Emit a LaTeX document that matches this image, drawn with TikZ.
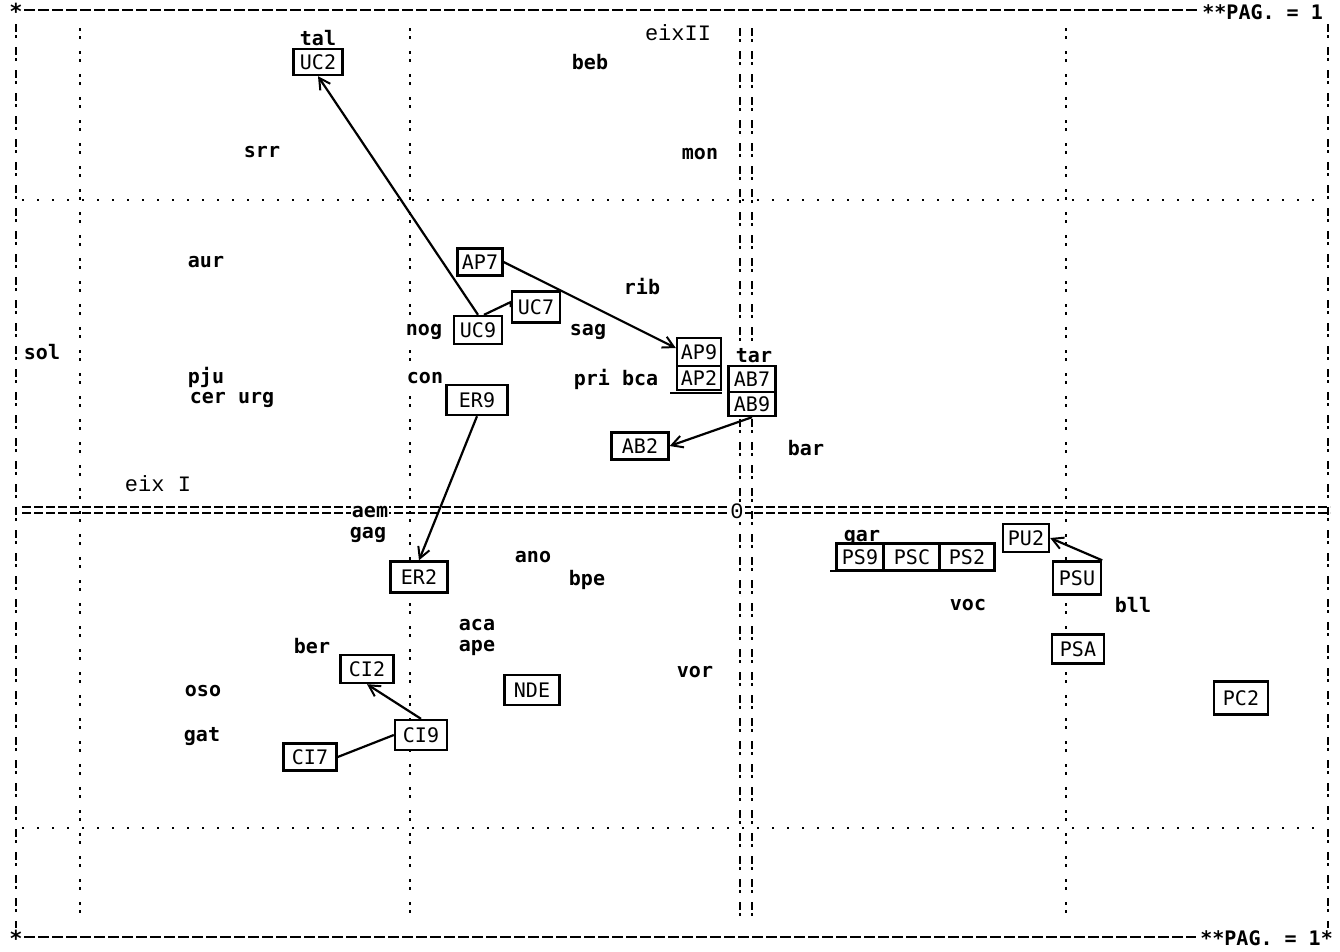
\documentclass[tikz,border=0pt]{standalone}
\usepackage{fontspec}
\newfontfamily\lbl{DejaVu Sans Mono}
\newfontfamily\typ{Liberation Mono}
\usetikzlibrary{arrows.meta}
\tikzset{
 word/.style={font=\lbl\bfseries\fontsize{20}{20}\selectfont, inner sep=1pt, fill=white},
 box/.style={draw, line width=2.4pt, fill=white, font=\lbl\fontsize{20}{20}\selectfont, minimum height=26pt, inner xsep=3pt, inner ysep=0pt},
 axislbl/.style={font=\typ\fontsize{22}{22}\selectfont, inner sep=1pt, fill=white},
 link/.style={line width=2.2pt},
 arr/.style={link, -{Straight Barb[length=11pt,width=12pt,line width=2pt]}},
 colon/.style={line width=2.6pt, dash pattern=on 2.5pt off 5.5pt on 2.5pt off 12.5pt},
 bang/.style={line width=2.4pt, dash pattern=on 8pt off 3pt on 2.5pt off 9.5pt},
 dotrow/.style={line width=2.6pt, dash pattern=on 2pt off 13pt},
 border/.style={line width=2.4pt, dash pattern=on 11pt off 3pt},
 dbl/.style={line width=1.8pt, dash pattern=on 9pt off 3pt},
}
\begin{document}
\begin{tikzpicture}[x=1pt,y=-1pt]
\useasboundingbox (0,0) rectangle (1340,951);
% frame
\draw[border] (24,10) -- (1200,10);
\draw[border] (24,937) -- (1196,937);
\draw[bang] (16,24) -- (16,928);
\draw[bang] (1328,24) -- (1328,928);
% grid
\foreach \gx in {80,410,1066} {\draw[colon] (\gx,28) -- (\gx,922);}
\foreach \gx in {740,752} {\draw[bang] (\gx,28) -- (\gx,920);}
\draw[dotrow] (22,200) -- (1326,200);
\draw[dotrow] (22,828) -- (1326,828);
\draw[dbl] (22,507) -- (1330,507);
\draw[dbl] (22,513) -- (1330,513);
\node[word, font=\lbl\bfseries\fontsize{22}{22}\selectfont] (stl) at (16,11) {*};
\node[word, font=\lbl\bfseries\fontsize{22}{22}\selectfont] (sbl) at (16,938) {*};
\node[word, anchor=east] (pagtop) at (1324,12) {**PAG.\ = 1};
\node[word, anchor=east] (pagbot) at (1334,938) {**PAG.\ = 1*};
\node[axislbl] (zero) at (737,511) {0};
\node[axislbl] (eixII) at (678,33) {eixII};
\node[axislbl] (eixI) at (158,484) {eix I};
% words
\node[word] (tal) at (318,38) {tal};
\node[word] (beb) at (590,62) {beb};
\node[word] (srr) at (262,152) {srr};
\node[word] (mon) at (700,154) {mon};
\node[word] (aur) at (206,262) {aur};
\node[word] (rib) at (642,287) {rib};
\node[word] (nog) at (424,332) {nog};
\node[word] (sag) at (588,332) {sag};
\node[word] (sol) at (42,352) {sol};
\node[word] (pju) at (206,377) {pju};
\node[word] (cerurg) at (232,400) {cer urg};
\node[word] (con) at (425,378) {con};
\node[word] (pribca) at (616,379) {pri bca};
\node[word] (tar) at (754,356) {tar};
\node[word] (bar) at (806,448) {bar};
\node[word] (aem) at (370,512) {aem};
\node[word] (gag) at (368,535) {gag};
\node[word] (ano) at (533,557) {ano};
\node[word] (bpe) at (587,580) {bpe};
\node[word] (aca) at (477,625) {aca};
\node[word] (ape) at (477,648) {ape};
\node[word] (ber) at (312,646) {ber};
\node[word] (oso) at (203,691) {oso};
\node[word] (vor) at (695,672) {vor};
\node[word] (gat) at (202,737) {gat};
\node[word] (gar) at (862,538) {gar};
\node[word] (voc) at (968,605) {voc};
\node[word] (bll) at (1133,605) {bll};
% boxes
\node[box, minimum width=49pt] (UC2) at (318,62) {UC2};
\node[box, minimum width=45pt, minimum height=27pt] (AP7) at (480,262) {AP7};
\node[box, minimum width=48pt, minimum height=31pt] (UC7) at (536,307) {UC7};
\node[box, minimum width=48pt, minimum height=28pt] (UC9) at (478,330) {UC9};
\node[box, minimum width=61pt, minimum height=30pt] (ER9) at (477,400) {ER9};
\node[box, minimum width=44pt, minimum height=28pt] (AP9) at (699,352) {AP9};
\node[box, minimum width=44pt, minimum height=24pt] (AP2) at (699,378) {AP2};
\draw[link] (670,393) -- (722,393);
\node[box, minimum width=47pt] (AB7) at (752,379) {AB7};
\node[box, minimum width=47pt, minimum height=24pt] (AB9) at (752,404) {AB9};
\node[box, minimum width=57pt, minimum height=27pt] (AB2) at (640,446) {AB2};
\node[box, minimum width=57pt, minimum height=31pt] (ER2) at (419,577) {ER2};
\node[box, minimum width=53pt, minimum height=28pt] (CI2) at (367,669) {CI2};
\node[box, minimum width=55pt, minimum height=30pt] (NDE) at (532,690) {NDE};
\node[box, minimum width=52pt, minimum height=30pt] (CI9) at (421,735) {CI9};
\node[box, minimum width=53pt, minimum height=27pt] (CI7) at (310,757) {CI7};
\node[box, minimum width=47pt, minimum height=27pt] (PS9) at (860,557) {PS9};
\node[box, minimum width=56pt, minimum height=27pt] (PSC) at (912,557) {PSC};
\node[box, minimum width=55pt, minimum height=27pt] (PS2) at (967,557) {PS2};
\draw[link] (830,571) -- (990,571);
\node[box, minimum width=46pt, minimum height=28pt] (PU2) at (1026,538) {PU2};
\node[box, minimum width=48pt, minimum height=33pt] (PSU) at (1077,578) {PSU};
\node[box, minimum width=52pt, minimum height=29pt] (PSA) at (1078,649) {PSA};
\node[box, minimum width=54pt, minimum height=33pt] (PC2) at (1241,698) {PC2};
% connectors
\draw[arr] (UC9.north) -- (UC2.south);
\draw[link] ([xshift=6pt]UC9.north) -- ([yshift=5pt]UC7.west) -- (UC7.west);
\draw[arr] (AP7.east) -- ([yshift=4pt]AP9.west);
\draw[arr] (ER9.south) -- (ER2.north);
\draw[arr] (AB9.south) -- (AB2.east);
\draw[arr] (CI9.north) -- (CI2.south);
\draw[link] (CI9.west) -- (CI7.east);
\draw[arr] (PSU.north east) -- (PU2.east);
\end{tikzpicture}
\end{document}
